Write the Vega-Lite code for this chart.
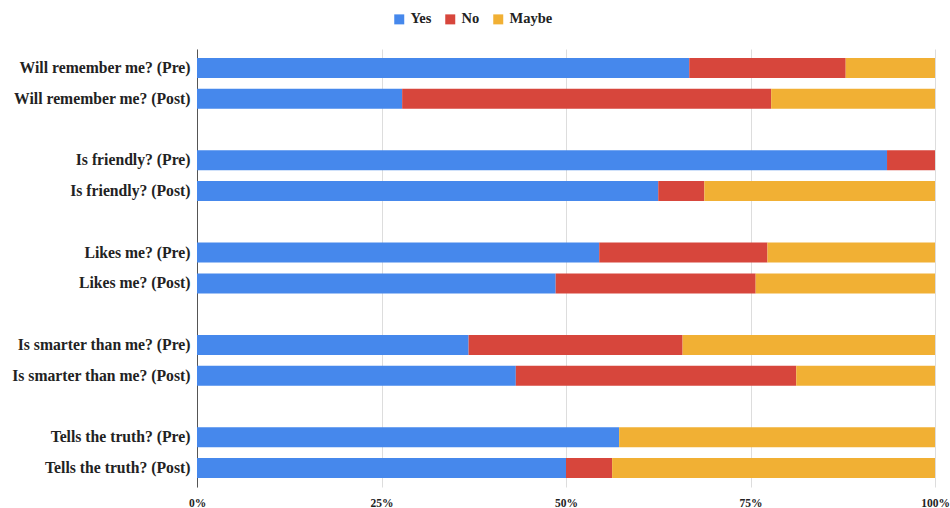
{
  "$schema": "https://vega.github.io/schema/vega-lite/v6.json",
  "width": 738,
  "height": 438,
  "autosize": {"type": "none"},
  "padding": {"left": 197, "top": 49, "right": 15, "bottom": 21},
  "background": "white",
  "config": {"view": {"stroke": null}, "font": "'Liberation Serif', serif"},
  "data": {
    "values": [
      {"q": "Will remember me? (Pre)", "r": "Yes", "rank": 1, "v": 66.7},
      {"q": "Will remember me? (Pre)", "r": "No", "rank": 2, "v": 21.2},
      {"q": "Will remember me? (Pre)", "r": "Maybe", "rank": 3, "v": 12.1},
      {"q": "Will remember me? (Post)", "r": "Yes", "rank": 1, "v": 27.8},
      {"q": "Will remember me? (Post)", "r": "No", "rank": 2, "v": 50.0},
      {"q": "Will remember me? (Post)", "r": "Maybe", "rank": 3, "v": 22.2},
      {"q": "Is friendly? (Pre)", "r": "Yes", "rank": 1, "v": 93.5},
      {"q": "Is friendly? (Pre)", "r": "No", "rank": 2, "v": 6.5},
      {"q": "Is friendly? (Post)", "r": "Yes", "rank": 1, "v": 62.5},
      {"q": "Is friendly? (Post)", "r": "No", "rank": 2, "v": 6.25},
      {"q": "Is friendly? (Post)", "r": "Maybe", "rank": 3, "v": 31.25},
      {"q": "Likes me? (Pre)", "r": "Yes", "rank": 1, "v": 54.5},
      {"q": "Likes me? (Pre)", "r": "No", "rank": 2, "v": 22.8},
      {"q": "Likes me? (Pre)", "r": "Maybe", "rank": 3, "v": 22.7},
      {"q": "Likes me? (Post)", "r": "Yes", "rank": 1, "v": 48.6},
      {"q": "Likes me? (Post)", "r": "No", "rank": 2, "v": 27.1},
      {"q": "Likes me? (Post)", "r": "Maybe", "rank": 3, "v": 24.3},
      {"q": "Is smarter than me? (Pre)", "r": "Yes", "rank": 1, "v": 36.8},
      {"q": "Is smarter than me? (Pre)", "r": "No", "rank": 2, "v": 29.0},
      {"q": "Is smarter than me? (Pre)", "r": "Maybe", "rank": 3, "v": 34.2},
      {"q": "Is smarter than me? (Post)", "r": "Yes", "rank": 1, "v": 43.2},
      {"q": "Is smarter than me? (Post)", "r": "No", "rank": 2, "v": 38.0},
      {"q": "Is smarter than me? (Post)", "r": "Maybe", "rank": 3, "v": 18.8},
      {"q": "Tells the truth? (Pre)", "r": "Yes", "rank": 1, "v": 57.2},
      {"q": "Tells the truth? (Pre)", "r": "Maybe", "rank": 3, "v": 42.8},
      {"q": "Tells the truth? (Post)", "r": "Yes", "rank": 1, "v": 50.0},
      {"q": "Tells the truth? (Post)", "r": "No", "rank": 2, "v": 6.25},
      {"q": "Tells the truth? (Post)", "r": "Maybe", "rank": 3, "v": 43.75}
    ]
  },
  "mark": {"type": "bar"},
  "encoding": {
    "y": {
      "field": "q",
      "type": "nominal",
      "title": null,
      "scale": {
        "domain": [
          "Will remember me? (Pre)", "Will remember me? (Post)", " ",
          "Is friendly? (Pre)", "Is friendly? (Post)", "  ",
          "Likes me? (Pre)", "Likes me? (Post)", "   ",
          "Is smarter than me? (Pre)", "Is smarter than me? (Post)", "    ",
          "Tells the truth? (Pre)", "Tells the truth? (Post)"
        ],
        "paddingInner": 0.35,
        "paddingOuter": 0.29
      },
      "axis": {
        "ticks": false,
        "domain": true,
        "domainColor": "#555555",
        "labelFont": "'Liberation Serif', serif",
        "labelFontWeight": "bold",
        "labelFontSize": 15.7,
        "labelColor": "#222222",
        "labelPadding": 7,
        "grid": false
      }
    },
    "x": {
      "field": "v",
      "type": "quantitative",
      "stack": "normalize",
      "title": null,
      "scale": {"domain": [0, 1], "nice": false},
      "axis": {
        "values": [0, 0.25, 0.5, 0.75, 1],
        "format": ".0%",
        "ticks": false,
        "domain": false,
        "grid": true,
        "gridColor": "#dddddd",
        "labelFont": "'Liberation Serif', serif",
        "labelFontWeight": "bold",
        "labelFontSize": 11.5,
        "labelColor": "#222222",
        "labelPadding": 10,
        "labelFlush": false
      }
    },
    "color": {
      "field": "r",
      "type": "nominal",
      "title": null,
      "scale": {"domain": ["Yes", "No", "Maybe"], "range": ["#4688EC", "#D7463C", "#F1B034"]},
      "legend": {
        "orient": "none",
        "direction": "horizontal",
        "legendX": 195,
        "legendY": -37,
        "symbolType": "square",
        "symbolSize": 100,
        "labelFont": "'Liberation Serif', serif",
        "labelFontWeight": "bold",
        "labelFontSize": 14.5,
        "labelColor": "#222222",
        "columnPadding": 11
      }
    },
    "order": {"field": "rank", "type": "quantitative"}
  }
}
